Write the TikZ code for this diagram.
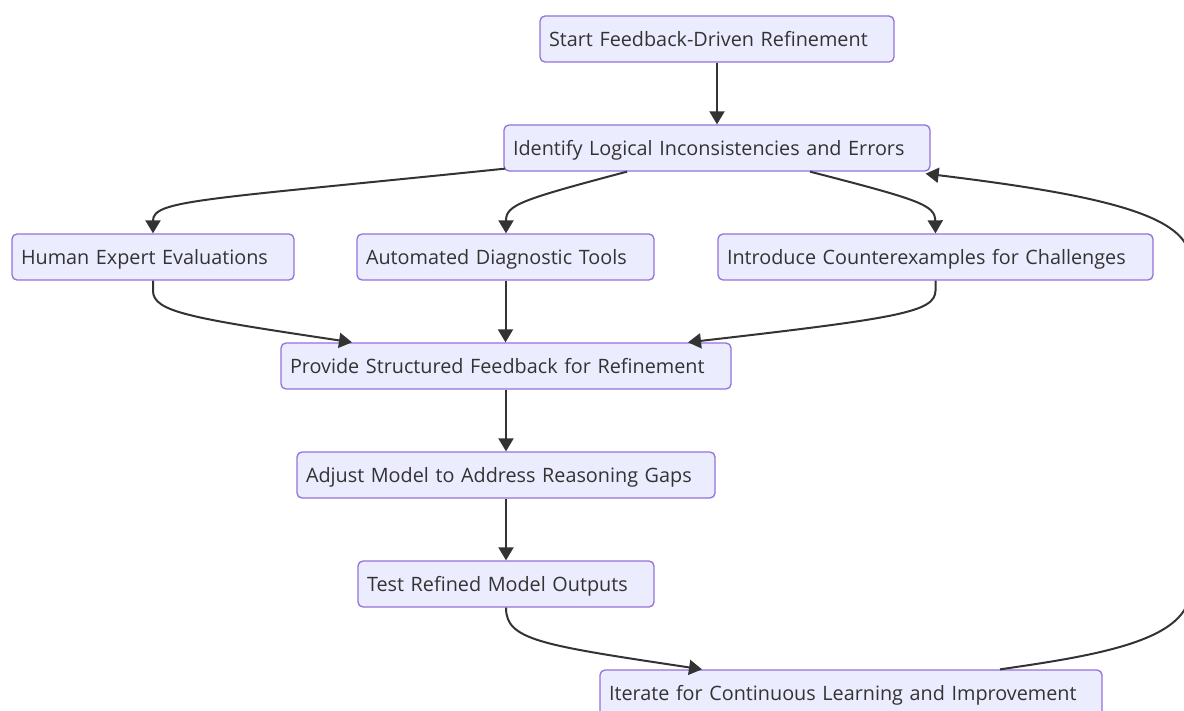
\documentclass[tikz,border=0pt]{standalone}
\usepackage{fontspec}
\setmainfont{Open Sans}
\usetikzlibrary{arrows.meta,calc}
\definecolor{boxfill}{HTML}{ECECFF}
\definecolor{boxline}{HTML}{9370DB}
\definecolor{ink}{HTML}{333333}
\tikzset{
  box/.style={draw=boxline, fill=boxfill, line width=1.3pt, rounded corners=5pt,
    minimum height=46pt, inner xsep=9pt, inner ysep=0pt, align=left,
    text height=19pt, text depth=4pt,
    font=\fontsize{19.8}{23}\selectfont, text=ink},
  link/.style={draw=ink, line width=2pt, -{Triangle[length=13pt,width=15pt]}},
}
\begin{document}
\begin{tikzpicture}[x=1pt,y=-1pt]
  \useasboundingbox (0,0) rectangle (1184,711);
  \begin{scope}
  \clip (0,0) rectangle (1184,711);
  % boxes: text width = box width - 18
  \node[box, text width=336pt] (start) at (717,39) {Start Feedback-Driven Refinement};
  \node[box, text width=408pt] (ident) at (717,148) {Identify Logical Inconsistencies and Errors};
  \node[box, text width=264pt] (human) at (153,257) {Human Expert Evaluations};
  \node[box, text width=279pt] (auto) at (505.5,257) {Automated Diagnostic Tools};
  \node[box, text width=417pt] (counter) at (935.5,257) {Introduce Counterexamples for Challenges};
  \node[box, text width=432pt] (feedback) at (506,366) {Provide Structured Feedback for Refinement};
  \node[box, text width=400pt] (adjust) at (506,475) {Adjust Model to Address Reasoning Gaps};
  \node[box, text width=278pt] (test) at (506,584) {Test Refined Model Outputs};
  \node[box, text width=484pt] (iter) at (851,693) {Iterate for Continuous Learning and Improvement};

  % straight links
  \draw[link] (start.south) -- (ident.north);
  \draw[link] (auto.south) -- (auto.south |- feedback.north);
  \draw[link] (feedback.south) -- (adjust.north);
  \draw[link] (adjust.south) -- (test.north);

  % fan-out from the identification step
  \draw[link] ([xshift=-212pt,yshift=3pt]ident.south) .. controls (200,200) and (153,200) .. (human.north);
  \draw[link] ([xshift=-90pt]ident.south) .. controls (520,200) and (506,205) .. ([xshift=0.5pt]auto.north);
  \draw[link] ([xshift=93pt]ident.south) .. controls (920,200) and (935,205) .. (counter.north);

  % fan-in to the feedback step
  \draw[link] (human.south) -- ++(0,10) .. controls (153,312) and (190,318) .. ([xshift=-154pt]feedback.north);
  \draw[link] (counter.south) -- ++(0,10) .. controls (935,312) and (900,318) .. ([xshift=182pt]feedback.north);

  % test to iteration, and the loop back
  \draw[link] (test.south) .. controls (506,640) and (540,645) .. ([xshift=-149pt]iter.north);
  \draw[link] ([xshift=149pt]iter.north) .. controls (1100,655) and (1190,640) .. (1190,590)
     -- (1190,260) .. controls (1190,215) and (1100,195) .. ([xshift=-5pt,yshift=-2pt]ident.south east);
  \end{scope}
\end{tikzpicture}
\end{document}
